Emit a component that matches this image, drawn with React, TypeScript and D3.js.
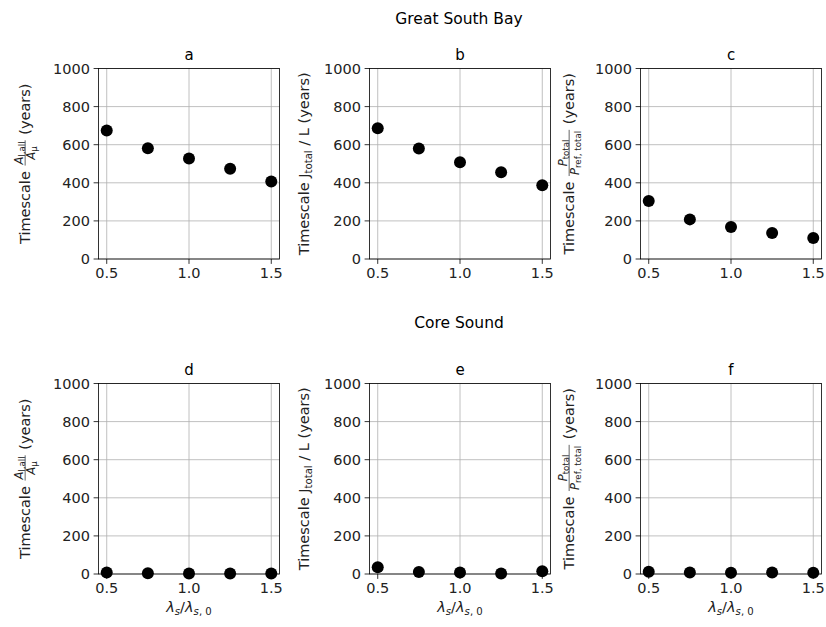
import React, { useEffect, useRef } from 'react';
import * as d3 from 'd3';

const xValues = [0.5, 0.75, 1.0, 1.25, 1.5];
const gsbA = [675, 581, 527, 474, 407];
const gsbB = [686, 580, 508, 455, 387];
const gsbC = [304, 208, 168, 136, 110];
const csD = [8, 4, 3, 3, 3];
const csE = [35, 10, 8, 3, 15];
const csF = [12, 8, 7, 8, 7];
const xTicks = [0.5, 1.0, 1.5];
const yTicks = [0, 200, 400, 600, 800, 1000];
const panelLetters = ['a', 'b', 'c', 'd', 'e', 'f'];
const rowTitles = ['Great South Bay', 'Core Sound'];

const FONT = 'DejaVu Sans, Verdana, sans-serif';
const FS = 14.5;

type Seg = { t: string; s?: number; it?: boolean; dy?: number };
type Piece = Seg | { num: Seg[]; den: Seg[] };

const labelA: Piece[] = [
  { t: 'Timescale ' },
  { num: [{ t: 'A', it: true, s: 0.8 }, { t: 'l,all', s: 0.6, dy: 0.15 }], den: [{ t: 'A', it: true, s: 0.8 }, { t: 'μ', s: 0.6, dy: 0.15 }] },
  { t: ' (years)' },
];
const labelB: Piece[] = [
  { t: 'Timescale J' },
  { t: 'total', s: 0.7, dy: 0.22 },
  { t: ' / L (years)' },
];
const labelC: Piece[] = [
  { t: 'Timescale ' },
  { num: [{ t: 'P', it: true, s: 0.8 }, { t: 'total', s: 0.6, dy: 0.15 }], den: [{ t: 'P', it: true, s: 0.8 }, { t: 'ref, total', s: 0.6, dy: 0.15 }] },
  { t: ' (years)' },
];
const labels = [labelA, labelB, labelC];
const labelOffsets = [69, 61, 67];

export default function App() {
  const ref = useRef<SVGSVGElement>(null);
  useEffect(() => {
    const svg = d3.select(ref.current);
    svg.selectAll('*').remove();
    svg.append('rect').attr('width', 826).attr('height', 627).attr('fill', 'white');

    const data = [gsbA, gsbB, gsbC, csD, csE, csF];
    const lefts = [98.5, 369.5, 640.5];
    const tops = [68.5, 383.5];
    const W = 181, H = 190.5;

    rowTitles.forEach((t, r) => {
      svg.append('text').attr('x', 459).attr('y', r === 0 ? 23.5 : 327.5)
        .attr('text-anchor', 'middle').attr('font-family', FONT).attr('font-size', 15.5).text(t);
    });

    const runSegs = (g: any, segs: Seg[], x0: number, base: number) => {
      let x = x0;
      segs.forEach((s) => {
        const fs = FS * (s.s ?? 1);
        const el = g.append('text').attr('x', x).attr('y', base + (s.dy ?? 0) * FS)
          .attr('font-family', FONT).attr('font-size', fs)
          .attr('font-style', s.it ? 'italic' : 'normal')
          .attr('xml:space', 'preserve').style('white-space', 'pre')
          .text(s.t);
        x += (el.node() as SVGTextElement).getComputedTextLength();
      });
      return x - x0;
    };

    for (let i = 0; i < 6; i++) {
      const col = i % 3, row = Math.floor(i / 3);
      const L = lefts[col], T = tops[row];
      const x = d3.scaleLinear().domain([0.45, 1.55]).range([L, L + W]);
      const y = d3.scaleLinear().domain([0, 1000]).range([T + H, T]);
      const g = svg.append('g');

      // grid
      xTicks.forEach((v) => g.append('line').attr('x1', x(v)).attr('x2', x(v)).attr('y1', T).attr('y2', T + H)
        .attr('stroke', '#b0b0b0').attr('stroke-width', 0.8));
      yTicks.forEach((v) => g.append('line').attr('x1', L).attr('x2', L + W).attr('y1', y(v)).attr('y2', y(v))
        .attr('stroke', '#b0b0b0').attr('stroke-width', 0.8));

      // points
      g.selectAll('circle.pt').data(xValues).enter().append('circle')
        .attr('cx', (d) => x(d)).attr('cy', (_d, j) => y(data[i][j])).attr('r', 6).attr('fill', 'black');

      // frame
      g.append('rect').attr('x', L).attr('y', T).attr('width', W).attr('height', H)
        .attr('fill', 'none').attr('stroke', 'black').attr('stroke-width', 0.8);

      // ticks
      xTicks.forEach((v) => {
        g.append('line').attr('x1', x(v)).attr('x2', x(v)).attr('y1', T + H).attr('y2', T + H + 4.9).attr('stroke', 'black').attr('stroke-width', 0.8);
        g.append('text').attr('x', x(v)).attr('y', T + H + 19).attr('text-anchor', 'middle')
          .attr('font-family', FONT).attr('font-size', FS).attr('fill', '#222').text(d3.format('.1f')(v));
      });
      yTicks.forEach((v) => {
        g.append('line').attr('x1', L - 4.9).attr('x2', L).attr('y1', y(v)).attr('y2', y(v)).attr('stroke', 'black').attr('stroke-width', 0.8);
        g.append('text').attr('x', L - 8.5).attr('y', y(v) + 5.2).attr('text-anchor', 'end')
          .attr('font-family', FONT).attr('font-size', FS).attr('fill', '#222').text(String(v));
      });

      // title
      g.append('text').attr('x', L + W / 2).attr('y', T - 9).attr('text-anchor', 'middle')
        .attr('font-family', FONT).attr('font-size', FS + 0.5).text(panelLetters[i]);

      // ylabel
      const lg = g.append('g');
      let cx = 0;
      labels[col].forEach((p: any) => {
        if (p.num) {
          const lineY = -0.3 * FS;
          const ng = lg.append('g');
          const dg = lg.append('g');
          const wn = runSegs(ng, p.num, 0, lineY - 2.5);
          const wd = runSegs(dg, p.den, 0, lineY + 10);
          const wf = Math.max(wn, wd) + 4;
          ng.attr('transform', `translate(${cx + (wf - wn) / 2},0)`);
          dg.attr('transform', `translate(${cx + (wf - wd) / 2},0)`);
          lg.append('line').attr('x1', cx + 1).attr('x2', cx + wf - 1).attr('y1', lineY).attr('y2', lineY)
            .attr('stroke', '#222').attr('stroke-width', 0.7);
          cx += wf;
        } else {
          cx += runSegs(lg, [p], cx, 0);
        }
      });
      lg.selectAll('text').attr('fill', '#222');
      const cy = T + H / 2;
      lg.attr('transform', `translate(${L - labelOffsets[col]},${cy}) rotate(-90) translate(${-cx / 2},0)`);

      // xlabel (bottom row)
      if (row === 1) {
        const xl = g.append('text').attr('x', L + W / 2).attr('y', T + H + 38).attr('text-anchor', 'middle')
          .attr('font-family', FONT).attr('font-size', FS).attr('fill', '#222');
        xl.append('tspan').attr('font-style', 'italic').text('λ');
        xl.append('tspan').attr('font-style', 'italic').attr('font-size', FS * 0.7).attr('dy', 3).text('s');
        xl.append('tspan').attr('dy', -3).text('/');
        xl.append('tspan').attr('font-style', 'italic').text('λ');
        xl.append('tspan').attr('font-style', 'italic').attr('font-size', FS * 0.7).attr('dy', 3).text('s');
        xl.append('tspan').attr('font-size', FS * 0.7).text(', 0');
      }
    }
  }, []);
  return <svg ref={ref} width={826} height={627} style={{ position: 'absolute', left: 0, top: 0, display: 'block' }} />;
}
